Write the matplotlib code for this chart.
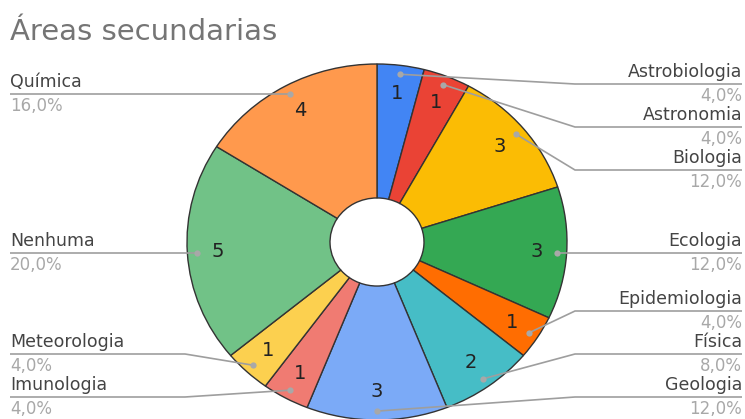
import numpy as np
import matplotlib.pyplot as plt
from matplotlib.transforms import Affine2D

# data
categories = ['Astrobiologia', 'Astronomia', 'Biologia', 'Ecologia', 'Epidemiologia',
              'Física', 'Geologia', 'Imunologia', 'Meteorologia', 'Nenhuma', 'Química']
values = [1, 1, 3, 3, 1, 2, 3, 1, 1, 5, 4]
colors = ['#4285f4', '#ea4335', '#fbbc04', '#34a853', '#ff6d01', '#46bdc6',
          '#7baaf7', '#f07b72', '#fcd04f', '#71c287', '#ff994d']
title = 'Áreas secundarias'

plt.rcParams['font.family'] = ['DejaVu Sans']

W, H = 745, 419
fig = plt.figure(figsize=(W / 100, H / 100), dpi=100)
ax = fig.add_axes([0, 0, 1, 1])

# pie geometry in pixels (the chart is slightly squashed vertically)
cx, cy = 377, 242
R = 190
r_in = 47
sy = 178 / 190

wedges, _ = ax.pie(values, colors=colors, startangle=-90, counterclock=True,
                   center=(cx, cy), radius=R,
                   wedgeprops=dict(width=R - r_in, edgecolor='#333333', linewidth=1))
ax.set_xlim(0, W)
ax.set_ylim(H, 0)
ax.set_aspect('auto')
ax.axis('off')

squash = Affine2D().translate(-cx, -cy).scale(1, sy).translate(cx, cy) + ax.transData
for w in wedges:
    w.set_transform(squash)

total = sum(values)
cum = np.cumsum([0] + values)
mids = [(cum[i] + cum[i + 1]) / 2 / total * 360 for i in range(len(values))]


def pos(phi, frac):
    a = np.radians(phi)
    return cx + frac * R * np.sin(a), cy - frac * R * sy * np.cos(a)


# value numbers inside slices
for v, phi in zip(values, mids):
    x, y = pos(phi, 0.84)
    ax.text(x, y, str(v), ha='center', va='center', fontsize=14, color='#222222')


def spread(ys, gap=43, top=84, bottom=397):
    out = list(ys)
    for i in range(len(out)):
        lo = top if i == 0 else out[i - 1] + gap
        out[i] = max(out[i], lo)
    for i in range(len(out) - 1, -1, -1):
        hi = bottom if i == len(out) - 1 else out[i + 1] - gap
        out[i] = min(out[i], hi)
    return out


right = [i for i in range(len(values)) if mids[i] <= 180]
left = [i for i in range(len(values)) if mids[i] > 180]

for side, idx in (('r', right), ('l', left)):
    idx = sorted(idx, key=lambda i: pos(mids[i], 0.95)[1])
    dots = [pos(mids[i], 0.95) for i in idx]
    ys = spread([d[1] for d in dots])
    for i, (dx, dy), ly in zip(idx, dots, ys):
        if side == 'r':
            ex, end, tx, ha = cx + R + 8, 742, 742, 'right'
        else:
            ex, end, tx, ha = cx - R - 2, 10, 10, 'left'
        ax.plot([dx, ex, end], [dy, ly, ly], color='#9e9e9e', lw=1.2, zorder=5,
                solid_capstyle='butt')
        ax.plot(dx, dy, 'o', color='#a8a8a8', ms=4.5, mec='none', zorder=6)
        pct = f'{values[i] / total * 100:.1f}%'.replace('.', ',')
        ax.text(tx, ly - 12, categories[i], ha=ha, va='center', fontsize=12.5,
                color='#444444')
        ax.text(tx, ly + 12, pct, ha=ha, va='center', fontsize=12, color='#a8a8a8')

ax.text(10, 32, title, ha='left', va='center', fontsize=21, color='#757575')

fig.savefig('out.png', dpi=100)
